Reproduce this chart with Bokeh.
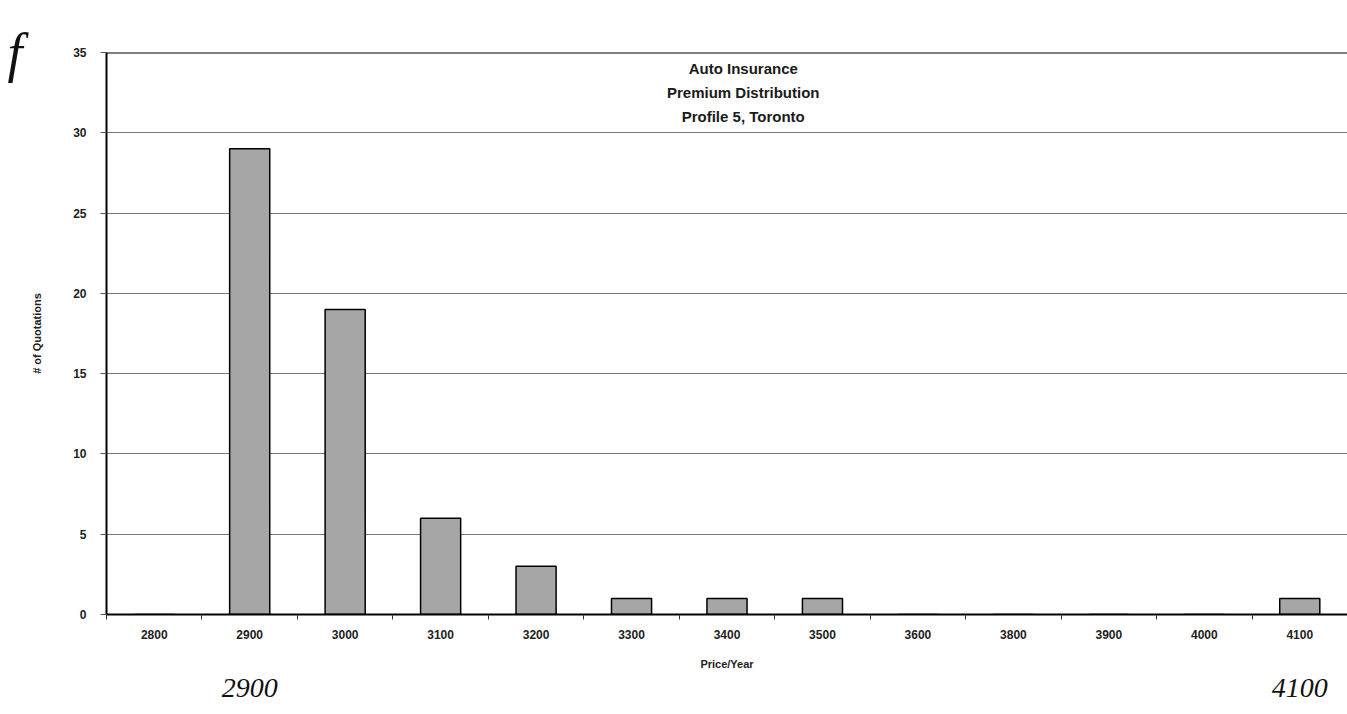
from bokeh.plotting import figure
from bokeh.models import FixedTicker, Span, Label, ColumnDataSource, Range1d, LinearAxis
from bokeh.embed import file_html
from bokeh.resources import INLINE

categories = ["2800", "2900", "3000", "3100", "3200", "3300", "3400", "3500",
              "3600", "3800", "3900", "4000", "4100"]
counts = [0, 29, 19, 6, 3, 1, 1, 1, 0, 0, 0, 0, 1]
y_ticks = [0, 5, 10, 15, 20, 25, 30, 35]
title_lines = ["Auto Insurance", "Premium Distribution", "Profile 5, Toronto"]
notes = ["f", "2900", "4100"]

FONT = "Liberation Sans"

xs = [i + 0.5 for i in range(len(categories))]
src = ColumnDataSource(dict(x=xs, top=counts, cat=categories))

p = figure(width=1347, height=714, output_backend="svg", toolbar_location=None,
           x_range=Range1d(0, len(categories)), y_range=Range1d(0, 35),
           min_border_left=106, min_border_right=0, min_border_top=52, min_border_bottom=100)
p.outline_line_color = None
p.background_fill_color = "white"
p.border_fill_color = "white"

p.vbar(x="x", top="top", width=0.42, bottom=0, source=src,
       fill_color="#a6a6a6", line_color="black", line_width=1.5)

# axes
p.xaxis.ticker = FixedTicker(ticks=xs, minor_ticks=list(range(len(categories) + 1)))
p.xaxis.major_label_overrides = {x: c for x, c in zip(xs, categories)}
p.xaxis.major_tick_out = 0
p.xaxis.major_tick_in = 0
p.xaxis.minor_tick_out = 5
p.xaxis.minor_tick_in = 0
p.xaxis.minor_tick_line_color = "#333333"
p.xaxis.axis_line_color = "black"
p.xaxis.axis_line_width = 2
p.xaxis.major_label_text_font = FONT
p.xaxis.major_label_text_font_style = "bold"
p.xaxis.major_label_text_font_size = "12px"
p.xaxis.major_label_text_color = "#222222"
p.xaxis.major_label_standoff = 10
p.xaxis.axis_label = "Price/Year"
p.xaxis.axis_label_text_font = FONT
p.xaxis.axis_label_text_font_style = "bold"
p.xaxis.axis_label_text_font_size = "11px"
p.xaxis.axis_label_text_color = "#222222"
p.xaxis.axis_label_standoff = 16

p.yaxis.ticker = FixedTicker(ticks=y_ticks)
p.yaxis.major_tick_out = 6
p.yaxis.major_tick_in = 0
p.yaxis.major_tick_line_color = "#555555"
p.yaxis.minor_tick_line_color = None
p.yaxis.axis_line_color = "black"
p.yaxis.axis_line_width = 2
p.yaxis.major_label_text_font = FONT
p.yaxis.major_label_text_font_style = "bold"
p.yaxis.major_label_text_font_size = "12px"
p.yaxis.major_label_text_color = "#222222"
p.yaxis.major_label_standoff = 14
p.yaxis.axis_label = "# of Quotations"
p.yaxis.axis_label_text_font = FONT
p.yaxis.axis_label_text_font_style = "bold"
p.yaxis.axis_label_text_font_size = "11px"
p.yaxis.axis_label_text_color = "#222222"
p.yaxis.axis_label_standoff = 27

p.xgrid.grid_line_color = None
p.ygrid.ticker = FixedTicker(ticks=y_ticks)
p.ygrid.grid_line_color = "#777777"
p.ygrid.grid_line_width = 1

p.add_layout(Span(location=35, dimension="width", line_color="black", line_width=2))

# title inside the plot area
for i, t in enumerate(title_lines):
    p.add_layout(Label(x=6.67, y=34.0 - i * 1.5, text=t, text_align="center",
                       text_baseline="middle", text_font=FONT, text_font_style="bold",
                       text_font_size="15px", text_color="#1a1a1a"))

# handwritten annotations, drawn as labels of bare extra axes
def bare(axis, size, standoff):
    axis.axis_line_color = None
    axis.major_tick_line_color = None
    axis.minor_tick_line_color = None
    axis.major_label_text_font = "Liberation Serif"
    axis.major_label_text_font_style = "italic"
    axis.major_label_text_font_size = size
    axis.major_label_text_color = "#111111"
    axis.major_label_standoff = standoff
    return axis

note_x = [xs[categories.index(notes[1])], xs[categories.index(notes[2])]]
bottom_notes = bare(LinearAxis(ticker=FixedTicker(ticks=note_x, minor_ticks=[]),
                               major_label_overrides={note_x[0]: notes[1], note_x[1]: notes[2]}),
                    "28px", 0)
p.add_layout(bottom_notes, "below")

left_notes = bare(LinearAxis(ticker=FixedTicker(ticks=[35], minor_ticks=[]),
                             major_label_overrides={35: notes[0]}), "54px", 0)
p.add_layout(left_notes, "left")

open("out.html", "w").write(file_html(p, INLINE))
